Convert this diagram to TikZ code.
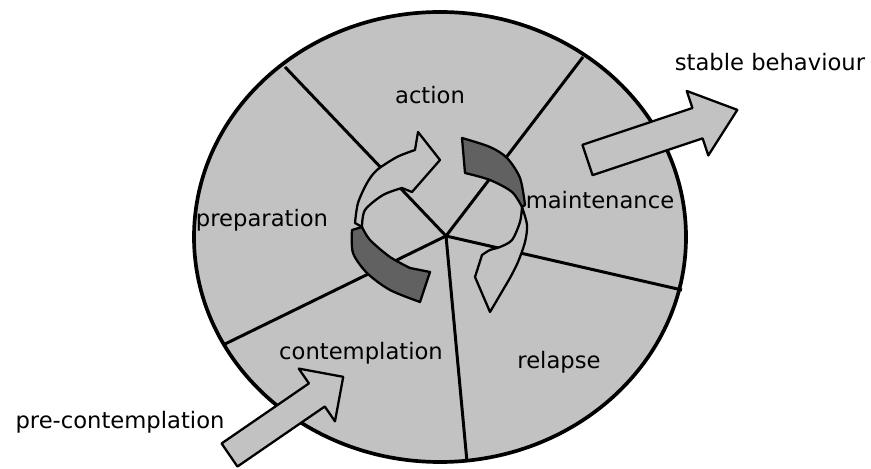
\documentclass[tikz,border=0pt]{standalone}
\usepackage{fontspec}
\setmainfont{DejaVu Sans}
\begin{document}
\begin{tikzpicture}[x=0.02cm,y=0.02cm,
  stage/.style={font=\fontsize{12.9}{15}\selectfont,inner sep=1pt},
  spoke/.style={line width=1.7pt},
  bigarrow/.style={fill=black!24,draw=black,line width=1.3pt,line join=round},
  ribbon/.style={fill=black!24,draw=black,line width=1.3pt,line join=round},
  ribbondark/.style={fill=black!62,draw=black,line width=1.3pt,line join=round}]
\useasboundingbox (0,0) rectangle (871,469);
% wheel and its spokes
\filldraw[fill=black!24,draw=black,line width=2.1pt] (440,232) ellipse [x radius=246,y radius=225];
\coordinate (hub) at (446,233);
\coordinate (e1) at (285,402);
\coordinate (e2) at (583,412);
\coordinate (e3) at (682,179);
\coordinate (e4) at (467,7);
\coordinate (e5) at (223,124);
\foreach \e in {e1,e2,e3,e4,e5}{
\draw[spoke] (hub)--(\e);
}
% turning arrows in the middle
\filldraw[ribbon] plot[smooth] coordinates {(355,246) (358,266) (367,286) (377,299) (397,312) (415,319)} -- (418,337) -- (440,309) -- (412,277) -- plot[smooth] coordinates {(402,281) (383,274) (365,259) (362,242)} -- cycle;
\filldraw[ribbondark] plot[smooth] coordinates {(352,239) (353,216) (367,196) (390,179) (420,167)} -- (430,197) -- plot[smooth] coordinates {(410,201) (390,212) (370,229) (362,242)} -- cycle;
\filldraw[ribbon] plot[smooth] coordinates {(522,262) (527,244) (525,227) (518,207) (510,191)} -- (490,157) -- (475,192) -- plot[smooth] coordinates {(482,214) (490,219) (500,222) (512,229) (520,247) (522,262)} -- cycle;
\filldraw[ribbondark] plot[smooth] coordinates {(462,331) (490,322) (507,311) (520,291) (525,264)} -- plot[smooth] coordinates {(522,262) (512,277) (490,289) (465,296)} -- cycle;
% way in and way out
\foreach \px/\py/\ang/\len/\hl/\sw/\hw in {229.5/14/34.5/138/32/14/32,587.5/309/18.5/158/42/16/34}{
\begin{scope}[shift={(\px,\py)},rotate=\ang]
\filldraw[bigarrow] (0,-\sw)--({\len-\hl},-\sw)--({\len-\hl},-\hw)--(\len,0)--({\len-\hl},\hw)--({\len-\hl},\sw)--(0,\sw)--cycle;
\end{scope}}
% stage names
\node[stage] (action) at (430,374) {action};
\node[stage] (prep) at (262,249) {preparation};
\node[stage] (maint) at (600,269) {maintenance};
\node[stage] (contemp) at (361,116) {contemplation};
\node[stage] (relapse) at (559,107) {relapse};
\node[stage] (precontemp) at (120,47) {pre-contemplation};
\node[stage] (stable) at (770,407) {stable behaviour};
\end{tikzpicture}
\end{document}
